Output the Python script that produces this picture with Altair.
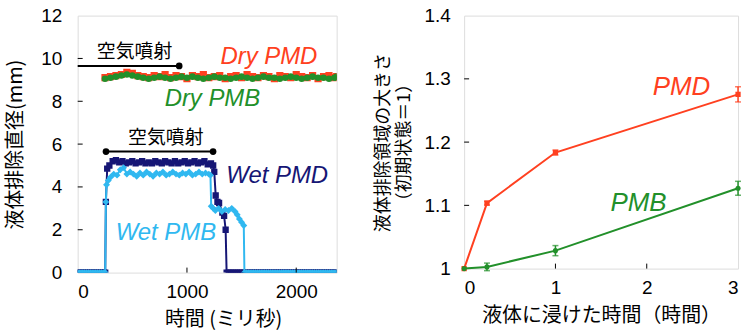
import altair as alt
import pandas as pd

LATIN = "Liberation Sans, Arial, Noto Sans CJK JP, sans-serif"
CJK = "Noto Sans CJK JP, Liberation Sans, sans-serif"

RED = "#FF4020"
GREEN = "#22902A"
NAVY = "#161675"
LBLUE = "#30B8F0"

# ---------------- Left panel data (time in ms, diameter in mm) ----------------
dry_t = list(range(250, 2351, 50)) + [2370]
dry_pmd = [9.10, 9.15, 9.20, 9.25, 9.35, 9.30, 9.20, 9.15, 9.10, 9.20,
           9.15, 9.25, 9.10, 9.20, 9.15, 9.05, 9.20, 9.15, 9.25, 9.10,
           9.15, 9.20, 9.05, 9.15, 9.20, 9.10, 9.25, 9.15, 9.10, 9.20,
           9.15, 9.05, 9.20, 9.15, 9.10, 9.25, 9.15, 9.10, 9.20, 9.05,
           9.15, 9.20, 9.10, 9.15]
dry_pmb = [9.05, 9.10, 9.15, 9.20, 9.25, 9.20, 9.15, 9.10, 9.05, 9.10,
           9.15, 9.10, 9.05, 9.10, 9.15, 9.10, 9.15, 9.10, 9.05, 9.10,
           9.15, 9.10, 9.10, 9.05, 9.10, 9.15, 9.10, 9.05, 9.10, 9.15,
           9.10, 9.10, 9.05, 9.10, 9.15, 9.10, 9.05, 9.10, 9.15, 9.10,
           9.10, 9.05, 9.10, 9.15]

zero_pre_t = [0, 20, 40, 60, 80, 100, 120, 140, 160, 180, 200, 220, 240, 252]

wet_pmd_t = [258, 270, 290, 320,
             350, 380, 410, 440, 470, 500, 530, 560, 590, 620,
             650, 680, 710, 740, 770, 800, 830, 860, 890, 920,
             950, 980, 1010, 1040, 1070, 1100, 1130, 1160, 1190, 1220,
             1240, 1250, 1263, 1279, 1294, 1324, 1340, 1354]
wet_pmd_v = [3.3, 4.85, 5.0, 5.2,
             5.25, 5.15, 5.2, 5.1, 5.15, 5.2, 5.1, 5.15, 5.2, 5.1,
             5.15, 5.1, 5.2, 5.15, 5.1, 5.2, 5.15, 5.1, 5.2, 5.1,
             5.15, 5.2, 5.1, 5.15, 5.2, 5.1, 5.15, 5.2, 5.05, 5.1,
             5.0, 4.7, 3.6, 3.3, 3.25, 2.8, 2.65, 2.0]
wet_pmd_zero_t = list(range(1363, 2371, 20))

wet_pmb_t = [258, 264, 280, 300,
             330, 360, 390, 420, 450, 480, 510, 540, 570, 600,
             630, 660, 690, 720, 750, 780, 810, 840, 870, 900,
             930, 960, 990, 1020, 1050, 1080, 1110, 1140, 1170, 1200,
             1215, 1222, 1240, 1260,
             1290, 1320, 1350, 1380, 1410, 1440,
             1460, 1480, 1500, 1520]
wet_pmb_v = [3.3, 4.1, 4.3, 4.45,
             4.6, 4.55, 4.8, 4.9, 4.6, 4.7, 4.6, 4.5, 4.65, 4.55,
             4.7, 4.6, 4.5, 4.65, 4.6, 4.7, 4.55, 4.6, 4.7, 4.6,
             4.55, 4.65, 4.6, 4.7, 4.55, 4.6, 4.7, 4.6, 4.65, 4.6,
             4.55, 3.1, 3.0, 2.9,
             3.0, 2.85, 2.95, 2.9, 3.0, 2.85,
             2.7, 2.5, 2.35, 2.2]
wet_pmb_zero_t = list(range(1526, 2371, 20))

# annotation bars: (start, end, level) and label positions
air_bar_top = [0, 929, 9.65]
air_bar_wet = [259, 1239, 5.65]
left_labels = ["空気噴射", "空気噴射", "Dry PMD", "Dry PMB", "Wet PMD", "Wet PMB"]
left_label_x = [521, 807, 1750, 1233, 1826, 807]
left_label_y = [10.3, 6.27, 10.05, 8.1, 4.49, 1.87]

left_yticks = [0, 2, 4, 6, 8, 10, 12]
left_xticks = [0, 1000, 2000]

# ---------------- Right panel data ----------------
soak_h = [0, 0.25, 1, 3]
pmd = [1.0, 1.1035, 1.1835, 1.2755]
pmd_err = [0.0, 0.003, 0.004, 0.012]
pmb = [1.0, 1.0027, 1.0284, 1.127]
pmb_err = [0.0, 0.006, 0.008, 0.011]
right_yticks = [1.0, 1.1, 1.2, 1.3, 1.4]
right_xticks = [0, 1, 2, 3]
right_labels = ["PMD", "PMB"]
right_label_x = [2.38, 1.91]
right_label_y = [1.287, 1.1035]

# ---------------- Left chart ----------------
LW, LH = 260, 258
XL = alt.X("t:Q", scale=alt.Scale(domain=[0, 2370], nice=False, zero=False),
           axis=alt.Axis(values=left_xticks, format="d", ticks=False, tickSize=0, domain=False,
                         grid=False, labelPadding=10, labelFontSize=19, labelFont=LATIN,
                         labelColor="black", title="時間 (ミリ秒)", titleFont=CJK,
                         titleFontSize=20, titleFontWeight="normal", titleColor="black",
                         titlePadding=8, titleX=146, titleAnchor="middle"))
YL = alt.Y("v:Q", scale=alt.Scale(domain=[0, 12], nice=False),
           axis=alt.Axis(values=left_yticks, ticks=False, tickSize=0, domain=False, grid=False,
                         labelPadding=16, labelFontSize=19, labelFont=LATIN, labelColor="black",
                         title="液体排除直径(mm)", titleFont=CJK, titleFontSize=20,
                         titleFontWeight="normal", titleColor="black", titlePadding=15))


def series(t, v, color, shape, size, sw=2):
    df = pd.DataFrame({"t": t, "v": v})
    b = alt.Chart(df)
    ln = b.mark_line(color=color, strokeWidth=sw, clip=True).encode(x=XL, y=YL)
    pt = b.mark_point(shape=shape, filled=True, color=color, size=size, opacity=1,
                      clip=True).encode(x=XL, y=YL)
    return [ln, pt]


layers = []
layers += series(dry_t, dry_pmd, RED, "square", 52, 3)
layers += series(dry_t, dry_pmb, GREEN, "circle", 44, 3)
layers += series(zero_pre_t + wet_pmd_t + wet_pmd_zero_t,
                 [0] * len(zero_pre_t) + wet_pmd_v + [0] * len(wet_pmd_zero_t),
                 NAVY, "square", 40)
layers += series(zero_pre_t + wet_pmb_t + wet_pmb_zero_t,
                 [0] * len(zero_pre_t) + wet_pmb_v + [0] * len(wet_pmb_zero_t),
                 LBLUE, "diamond", 48)

bars = pd.DataFrame({"t": [air_bar_top[0], air_bar_wet[0]],
                     "t2": [air_bar_top[1], air_bar_wet[1]],
                     "v": [air_bar_top[2], air_bar_wet[2]]})
layers.append(alt.Chart(bars).mark_rule(color="black", strokeWidth=2).encode(
    x=XL, x2="t2:Q", y=YL))
dots = pd.DataFrame({"t": [air_bar_top[1], air_bar_wet[0], air_bar_wet[1]],
                     "v": [air_bar_top[2], air_bar_wet[2], air_bar_wet[2]]})
layers.append(alt.Chart(dots).mark_point(shape="circle", filled=True, color="black",
                                         size=45, opacity=1).encode(x=XL, y=YL))

lab = pd.DataFrame({"t": left_label_x, "v": left_label_y, "s": left_labels})
layers.append(alt.Chart(lab.iloc[0:2]).mark_text(font=CJK, fontSize=19, color="black").encode(
    x=XL, y=YL, text="s:N"))
for i, col in zip(range(2, 6), [RED, GREEN, NAVY, LBLUE]):
    layers.append(alt.Chart(lab.iloc[i:i + 1]).mark_text(
        font=LATIN, fontSize=24, fontStyle="italic", color=col).encode(x=XL, y=YL, text="s:N"))

ltick_y = pd.DataFrame({"v": [2, 4, 6, 8, 10]})
layers.append(alt.Chart(ltick_y).mark_rule(color="black", strokeWidth=1).encode(
    y=YL, x=alt.value(0), x2=alt.value(5)))
ltick_x = pd.DataFrame({"t": [1000, 2000]})
layers.append(alt.Chart(ltick_x).mark_rule(color="black", strokeWidth=1).encode(
    x=XL, y=alt.value(LH), y2=alt.value(LH - 5)))

left = alt.layer(*layers).properties(width=LW, height=LH)

# ---------------- Right chart ----------------
RW, RH = 275, 254
XR = alt.X("h:Q", scale=alt.Scale(domain=[0, 3], nice=False),
           axis=alt.Axis(values=right_xticks, ticks=False, tickSize=0, domain=False, grid=False,
                         labelPadding=10, labelFontSize=19, labelFont=LATIN, labelColor="black",
                         title="液体に浸けた時間（時間）", titleFont=CJK, titleFontSize=20,
                         titleFontWeight="normal", titleColor="black", titlePadding=8))
YR = alt.Y("r:Q", scale=alt.Scale(domain=[1.0, 1.4], nice=False, zero=False),
           axis=alt.Axis(values=right_yticks, format=".1~f", ticks=False, tickSize=0,
                         domain=False, grid=False, labelPadding=14, labelFontSize=19,
                         labelFont=LATIN, labelColor="black",
                         title=["液体排除領域の大きさ", "（初期状態＝1）"], titleFont=CJK,
                         titleFontSize=18, titleLineHeight=22, titleFontWeight="normal",
                         titleColor="black", titlePadding=10))


def rseries(v, e, color, shape, size):
    df = pd.DataFrame({"h": soak_h, "r": v,
                       "lo": [a - b for a, b in zip(v, e)],
                       "hi": [a + b for a, b in zip(v, e)]})
    b = alt.Chart(df)
    out = [b.mark_line(color=color, strokeWidth=2).encode(x=XR, y=YR)]
    eb = alt.Chart(df[df.h > 0])
    out.append(eb.mark_rule(color=color, strokeWidth=1.5).encode(
        x=XR, y=alt.Y("lo:Q", scale=alt.Scale(domain=[1.0, 1.4], nice=False, zero=False)), y2="hi:Q"))
    for f in ["lo", "hi"]:
        out.append(eb.mark_tick(color=color, orient="horizontal", size=6, thickness=1.5).encode(
            x=XR, y=alt.Y(f + ":Q", scale=alt.Scale(domain=[1.0, 1.4], nice=False, zero=False))))
    out.append(b.mark_point(shape=shape, filled=True, color=color, size=size, opacity=1).encode(
        x=XR, y=YR))
    return out


rl = []
rl += rseries(pmd, pmd_err, RED, "square", 28)
rl += rseries(pmb, pmb_err, GREEN, "circle", 26)
rlab = pd.DataFrame({"h": right_label_x, "r": right_label_y, "s": right_labels})
for i, col in enumerate([RED, GREEN]):
    rl.append(alt.Chart(rlab.iloc[i:i + 1]).mark_text(
        font=LATIN, fontSize=26, fontStyle="italic", color=col).encode(x=XR, y=YR, text="s:N"))
rtick_y = pd.DataFrame({"r": [1.1, 1.2, 1.3]})
rl.append(alt.Chart(rtick_y).mark_rule(color="black", strokeWidth=1).encode(
    y=YR, x=alt.value(0), x2=alt.value(5)))
rtick_x = pd.DataFrame({"h": [1, 2]})
rl.append(alt.Chart(rtick_x).mark_rule(color="black", strokeWidth=1).encode(
    x=XR, y=alt.value(RH), y2=alt.value(RH - 5)))

right = alt.layer(*rl).properties(width=RW, height=RH)

chart = alt.hconcat(left, right, spacing=36).configure_view(
    stroke="black", strokeWidth=1.5).configure(background="white")

chart.save("out.html", embed_options={"renderer": "svg", "actions": False})
